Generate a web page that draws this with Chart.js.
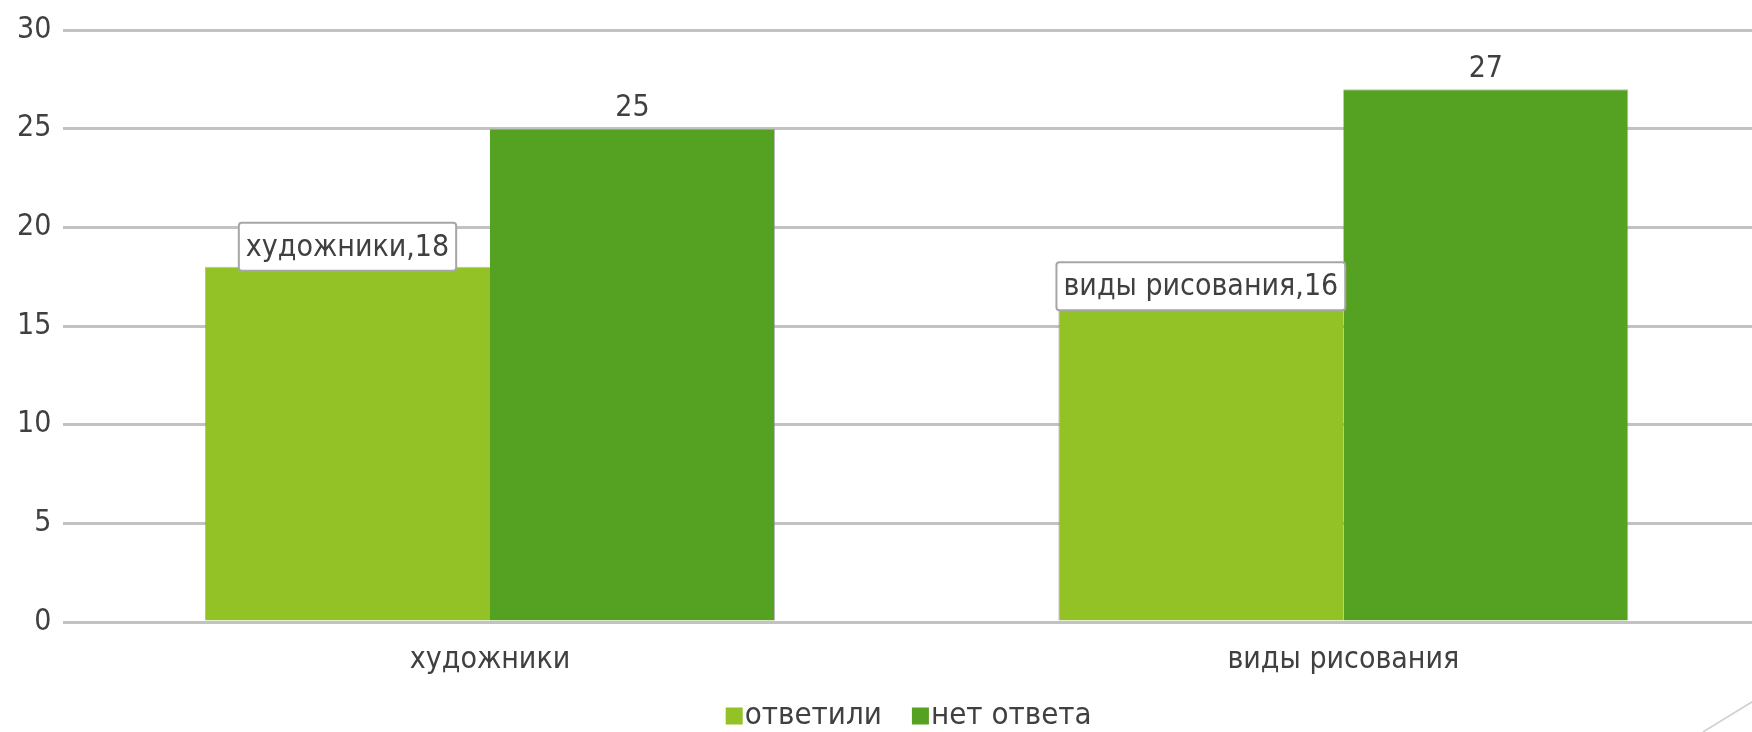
<!DOCTYPE html>
<html>
<head>
<meta charset="utf-8">
<script src="https://cdn.jsdelivr.net/npm/chart.js@4.4.1/dist/chart.umd.min.js"></script>
<style>
  html, body { margin: 0; padding: 0; background: #fff; overflow: hidden; }
  #wrap { width: 1752px; height: 732px; overflow: hidden; position: relative; }
</style>
</head>
<body>
<div id="wrap"><canvas id="surveyChart" width="1770" height="732"></canvas></div>
<script>
// data
const categories = ["художники", "виды рисования"];
const answered = [18, 16];
const noAnswer = [25, 27];
const seriesNames = ["ответили", "нет ответа"];
const seriesColors = ["#93c226", "#55a122"];
const yTicks = [0, 5, 10, 15, 20, 25, 30];

const FONT = "'DejaVu Sans Condensed', 'DejaVu Sans', sans-serif";
const TEXT = "#404040";

// Chart.js plugin: value labels — callout box for the first series, plain number for the second
const valueLabelPlugin = {
  id: "valueLabels",
  afterDatasetsDraw(chart) {
    const { ctx } = chart;
    ctx.save();
    ctx.font = "30px " + FONT;
    ctx.textAlign = "center";
    ctx.textBaseline = "middle";

    // second series: number above the bar
    chart.getDatasetMeta(1).data.forEach((bar, i) => {
      ctx.fillStyle = TEXT;
      ctx.fillText(String(noAnswer[i]), bar.x, bar.y - 20);
    });

    // first series: "category,value" in a white box sitting on the bar top
    chart.getDatasetMeta(0).data.forEach((bar, i) => {
      const txt = categories[i] + "," + answered[i];
      const w = ctx.measureText(txt).width + 14;
      const h = 48;
      const bottom = bar.y + 4;
      const left = bar.x - w / 2;
      ctx.fillStyle = "#ffffff";
      ctx.strokeStyle = "#a6a6a6";
      ctx.lineWidth = 2;
      ctx.beginPath();
      ctx.roundRect(left, bottom - h, w, h, 3);
      ctx.fill();
      ctx.stroke();
      ctx.fillStyle = TEXT;
      ctx.fillText(txt, bar.x, bottom - h / 2 + 1);
    });
    ctx.restore();
  }
};

// legend drawn by hand: square glued to its label, like the original
const bottomLegendPlugin = {
  id: "bottomLegend",
  afterDraw(chart) {
    const { ctx, chartArea } = chart;
    const box = 17, gap = 30, yMid = chart.height - 16;
    ctx.save();
    ctx.font = "31px " + FONT;
    ctx.textBaseline = "middle";
    const widths = seriesNames.map(n => ctx.measureText(n).width);
    const total = widths.reduce((a, b) => a + b, 0) + seriesNames.length * (box + 2) + gap * (seriesNames.length - 1);
    let x = (chartArea.left + chartArea.right) / 2 - 8 - total / 2;
    seriesNames.forEach((name, i) => {
      ctx.fillStyle = seriesColors[i];
      ctx.fillRect(x, yMid - box / 2, box, box);
      ctx.fillStyle = TEXT;
      ctx.textAlign = "left";
      ctx.fillText(name, x + box + 2, yMid);
      x += box + 2 + widths[i] + gap;
    });
    ctx.restore();
  }
};

// slide decoration in the bottom-right corner
const cornerLinePlugin = {
  id: "cornerLine",
  afterDraw(chart) {
    const { ctx } = chart;
    ctx.save();
    ctx.strokeStyle = "#cfcfcf";
    ctx.lineWidth = 1.5;
    ctx.beginPath();
    ctx.moveTo(1703, 732);
    ctx.lineTo(1760, 697);
    ctx.stroke();
    ctx.restore();
  }
};

new Chart(document.getElementById("surveyChart"), {
  type: "bar",
  data: {
    labels: categories,
    datasets: [
      {
        label: seriesNames[0],
        data: answered,
        backgroundColor: seriesColors[0],
        borderColor: "rgba(140,140,140,0.6)",
        borderWidth: { top: 1, left: 1, right: 0, bottom: 0 },
        categoryPercentage: 0.668,
        barPercentage: 1.0
      },
      {
        label: seriesNames[1],
        data: noAnswer,
        backgroundColor: seriesColors[1],
        borderColor: "rgba(140,140,140,0.6)",
        borderWidth: { top: 1, left: 0, right: 1, bottom: 0 },
        categoryPercentage: 0.668,
        barPercentage: 1.0
      }
    ]
  },
  options: {
    responsive: false,
    animation: false,
    devicePixelRatio: 1,
    layout: { padding: { top: 8, left: 5, right: 0, bottom: 42 } },
    plugins: {
      legend: { display: false },
      tooltip: { enabled: false }
    },
    scales: {
      x: {
        grid: { display: false },
        border: { display: false },
        ticks: { font: { family: FONT, size: 30 }, color: TEXT, padding: 12 }
      },
      y: {
        min: 0,
        max: 30,
        afterBuildTicks(scale) { scale.ticks = yTicks.map(v => ({ value: v })); },
        grid: { color: "#c2c2c2", lineWidth: 3, drawTicks: false },
        border: { display: false },
        ticks: { font: { family: FONT, size: 30 }, color: TEXT, padding: 12 }
      }
    }
  },
  plugins: [valueLabelPlugin, bottomLegendPlugin, cornerLinePlugin]
});
</script>
</body>
</html>
